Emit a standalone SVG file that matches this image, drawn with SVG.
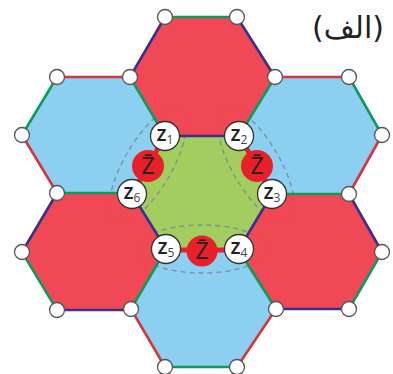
<svg xmlns="http://www.w3.org/2000/svg" width="393" height="374" viewBox="0 0 393 374">
<style>
.blue{fill:#8ccff0}.red{fill:#ef424e;fill-opacity:.96}.green{fill:#a2cd5f}
.e{fill:none;stroke-width:2.6;stroke-linecap:round}
.eg{stroke:#0f9a5c}.er{stroke:#d8343f}.eb{stroke:#3a2f8f}
.v{fill:#fff;stroke:#555;stroke-width:1.3}
.n{fill:#fff;stroke:#333;stroke-width:1.3}
.d{fill:none;stroke:#7f8c95;stroke-width:1.3;stroke-dasharray:5 4}
.dot{fill:#e8202a}
.link{stroke:#e8202a;stroke-width:5}
.z{font-family:"Open Sans","Noto Sans",sans-serif;font-size:21px;font-weight:600;fill:#222;text-anchor:middle}
.s{font-size:12px;font-weight:400;fill:#444}
.b{font-family:"Open Sans","Noto Sans",sans-serif;font-size:23px;fill:#222;text-anchor:middle}
</style>
<g id="cells">
<polygon class="blue" points="57,77 130,77 165,136 132,194 57,193 22,135"/>
<polygon class="blue" points="275,77 349,77 382,135 349,194 272,194 239,136"/>
<polygon class="blue" points="166,249 238,249 276,309 237,367 165,367 131,309"/>
<polygon class="green" points="165,136 239,136 272,194 239,249 166,249 132,194"/>
<ellipse class="d" cx="148" cy="165" rx="65" ry="24" transform="rotate(-60 148 165)"/>
<ellipse class="d" cx="256" cy="165" rx="65" ry="24" transform="rotate(60 256 165)"/>
<ellipse class="d" cx="202" cy="249" rx="65" ry="24"/>
<polygon class="red" points="165,17 237,17 275,77 239,136 165,136 130,77"/>
<polygon class="red" points="57,193 132,194 166,249 131,309 57,310 22,252"/>
<polygon class="red" points="272,194 349,194 382,252 349,309 276,309 239,249"/>
</g>
<g id="connectors">
<path class="e eg" d="M165 17H237M275 77L239 136M165 136L130 77M57 77L22 135M57 193H132M349 77L382 135M272 194H349M22 252L57 310M131 309L166 249M382 252L349 309M276 309L238 249M165 367H237"/>
<path class="e eb" d="M237 17L275 77M165 17L130 77M165 136H239M272 194L239 249M166 249L132 194M57 193L22 252M57 310H131M349 194L382 252M276 309H349"/>
<path class="e er" d="M57 77H130M22 135L57 193M275 77H349M382 135L349 194M131 309L165 367M237 367L276 309"/>
<path class="link" d="M165 136L148 166L132 194M239 136L257 166L272 194M166 250H238" fill="none"/>
</g>
<g id="vertices">
<circle class="v" cx="165" cy="17" r="7.5"/><circle class="v" cx="237" cy="17" r="7.5"/>
<circle class="v" cx="130" cy="77" r="7.5"/><circle class="v" cx="275" cy="77" r="7.5"/>
<circle class="v" cx="57" cy="77" r="7.5"/><circle class="v" cx="349" cy="77" r="7.5"/>
<circle class="v" cx="22" cy="135" r="7.5"/><circle class="v" cx="382" cy="135" r="7.5"/>
<circle class="v" cx="57" cy="193" r="7.5"/><circle class="v" cx="349" cy="194" r="7.5"/>
<circle class="v" cx="22" cy="252" r="7.5"/><circle class="v" cx="382" cy="252" r="7.5"/>
<circle class="v" cx="57" cy="310" r="7.5"/><circle class="v" cx="349" cy="309" r="7.5"/>
<circle class="v" cx="131" cy="309" r="7.5"/><circle class="v" cx="276" cy="309" r="7.5"/>
<circle class="v" cx="165" cy="367" r="7.5"/><circle class="v" cx="237" cy="367" r="7.5"/>
</g>
<g id="zbar-left"><circle class="dot" cx="148" cy="166" r="16"/><text class="b" x="148" y="174">Z̄</text></g>
<g id="zbar-right"><circle class="dot" cx="257" cy="166" r="16"/><text class="b" x="257" y="174">Z̄</text></g>
<g id="zbar-bottom"><circle class="dot" cx="202" cy="251" r="15.5"/><text class="b" x="202" y="259">Z̄</text></g>
<g id="z1"><circle class="n" cx="165" cy="136" r="14.5"/><text class="z" x="165" y="141">z<tspan class="s" dy="3">1</tspan></text></g>
<g id="z2"><circle class="n" cx="239" cy="136" r="14.5"/><text class="z" x="239" y="141">z<tspan class="s" dy="3">2</tspan></text></g>
<g id="z3"><circle class="n" cx="272" cy="194" r="14.5"/><text class="z" x="272" y="199">z<tspan class="s" dy="3">3</tspan></text></g>
<g id="z4"><circle class="n" cx="239" cy="249" r="14.5"/><text class="z" x="239" y="254">z<tspan class="s" dy="3">4</tspan></text></g>
<g id="z5"><circle class="n" cx="166" cy="249" r="14.5"/><text class="z" x="166" y="254">z<tspan class="s" dy="3">5</tspan></text></g>
<g id="z6"><circle class="n" cx="132" cy="194" r="14.5"/><text class="z" x="132" y="199">z<tspan class="s" dy="3">6</tspan></text></g>
<text id="title" x="348" y="38" font-family="DejaVu Sans, sans-serif" font-size="30" fill="#222" text-anchor="middle" direction="rtl">(الف)</text>
</svg>
